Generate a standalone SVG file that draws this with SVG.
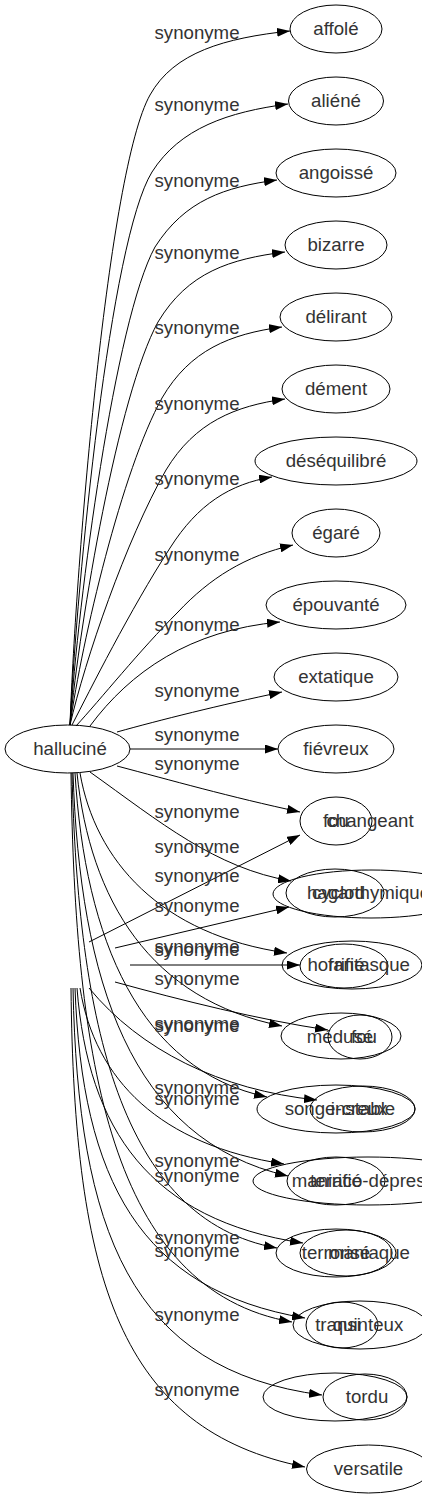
<svg xmlns="http://www.w3.org/2000/svg" width="422" height="1499" viewBox="0 0 422 1499">
<style>
.n ellipse{fill:none;stroke:#000;stroke-width:1}
text{font-family:"Liberation Sans",Arial,sans-serif;font-size:18.67px;fill:#333;text-anchor:middle}
.e path{fill:none;stroke:#000;stroke-width:1;marker-end:url(#ah)}
</style>
<defs>
<marker id="ah" markerWidth="13" markerHeight="9" refX="13" refY="4.5" orient="auto" markerUnits="userSpaceOnUse">
<path d="M0,0 L13,4.5 L0,9 Z" fill="#000"/>
</marker>
</defs>
<rect width="422" height="1499" fill="#fff"/>
<g id="edges" class="e">
<path d="M70,725 C76,560 108,170 150,95 C174,52 225,38 290,31"/>
<path d="M70,725 C77,580 110,240 152,172 C180,128 228,112 288,104"/>
<path d="M70,725 C78,600 115,320 155,247 C185,200 225,187 277,180"/>
<path d="M70,725 C80,620 118,395 158,322 C188,272 230,259 285,252"/>
<path d="M70,725 C82,640 122,470 162,398 C190,350 230,334 282,327"/>
<path d="M70,725 C85,660 126,540 166,470 C195,422 235,406 285,399"/>
<path d="M72,725 C90,690 130,610 170,548 C198,504 230,484 272,477"/>
<path d="M76,726 C100,700 140,650 178,612 C210,578 245,556 293,545"/>
<path d="M90,726 C130,672 190,630 280,622"/>
<path d="M117,732 C160,720 220,705 282,692"/>
<path d="M130,749 L278,749"/>
<path d="M117,766 C170,780 230,797 300,812"/>
<path d="M90,772 C160,822 215,868 291,881"/>
<path d="M80,773 C95,860 160,935 287,953"/>
<path d="M77,773 C90,900 150,1000 282,1026"/>
<path d="M75,773 C85,940 140,1070 267,1097"/>
<path d="M73,773 C80,980 130,1140 288,1176"/>
<path d="M72,773 C78,1020 120,1220 277,1248"/>
<path d="M71,773 C75,1060 110,1290 292,1322"/>
<path d="M89,942 L300,835"/>
<path d="M115,948 L289,907"/>
<path d="M130,965 L300,965"/>
<path d="M115,982 C180,1000 260,1020 328,1030"/>
<path d="M89,988 C140,1050 220,1090 317,1100"/>
<path d="M80,988 C95,1080 160,1145 284,1164"/>
<path d="M77,988 C88,1130 150,1220 303,1243"/>
<path d="M75,988 C82,1180 140,1290 305,1318"/>
<path d="M73,988 C78,1230 130,1370 322,1395"/>
<path d="M71,988 C74,1280 120,1430 305,1467"/>
</g>
<g id="labels">
<text x="197" y="39">synonyme</text>
<text x="197" y="111">synonyme</text>
<text x="197" y="187">synonyme</text>
<text x="197" y="259">synonyme</text>
<text x="197" y="334">synonyme</text>
<text x="197" y="410">synonyme</text>
<text x="197" y="485">synonyme</text>
<text x="197" y="561">synonyme</text>
<text x="197" y="631">synonyme</text>
<text x="197" y="697">synonyme</text>
<text x="197" y="741">synonyme</text>
<text x="197" y="770">synonyme</text>
<text x="197" y="818">synonyme</text>
<text x="197" y="853">synonyme</text>
<text x="197" y="882">synonyme</text>
<text x="197" y="912">synonyme</text>
<text x="197" y="953">synonyme</text>
<text x="197" y="956">synonyme</text>
<text x="197" y="985">synonyme</text>
<text x="197" y="1030">synonyme</text>
<text x="197" y="1032">synonyme</text>
<text x="197" y="1094">synonyme</text>
<text x="197" y="1105">synonyme</text>
<text x="197" y="1167">synonyme</text>
<text x="197" y="1182">synonyme</text>
<text x="197" y="1244">synonyme</text>
<text x="197" y="1257">synonyme</text>
<text x="197" y="1321">synonyme</text>
<text x="197" y="1396">synonyme</text>
</g>
<g id="n-hallucine" class="n"><ellipse cx="67.5" cy="749" rx="62.5" ry="24"/><text x="70" y="754.5">halluciné</text></g>
<g id="n-affole" class="n"><ellipse cx="336" cy="29" rx="46" ry="24"/><text x="336" y="34.5">affolé</text></g>
<g id="n-aliene" class="n"><ellipse cx="336" cy="101" rx="47.5" ry="24"/><text x="336" y="106.5">aliéné</text></g>
<g id="n-angoisse" class="n"><ellipse cx="336" cy="173" rx="60" ry="24"/><text x="336" y="178.5">angoissé</text></g>
<g id="n-bizarre" class="n"><ellipse cx="336" cy="245" rx="51" ry="24"/><text x="336" y="250.5">bizarre</text></g>
<g id="n-delirant" class="n"><ellipse cx="336" cy="317" rx="56" ry="24"/><text x="336" y="322.5">délirant</text></g>
<g id="n-dement" class="n"><ellipse cx="336" cy="389" rx="54" ry="24"/><text x="336" y="394.5">dément</text></g>
<g id="n-desequilibre" class="n"><ellipse cx="336" cy="461" rx="81" ry="24"/><text x="336" y="466.5">déséquilibré</text></g>
<g id="n-egare" class="n"><ellipse cx="336" cy="533" rx="44" ry="24"/><text x="336" y="538.5">égaré</text></g>
<g id="n-epouvante" class="n"><ellipse cx="336" cy="605" rx="70" ry="24"/><text x="336" y="610.5">épouvanté</text></g>
<g id="n-extatique" class="n"><ellipse cx="336" cy="677" rx="62" ry="24"/><text x="336" y="682.5">extatique</text></g>
<g id="n-fievreux" class="n"><ellipse cx="336" cy="749" rx="58" ry="24"/><text x="336" y="754.5">fiévreux</text></g>
<g id="n-fou" class="n"><ellipse cx="336" cy="821" rx="36" ry="24"/><text x="336" y="826.5">fou</text></g>
<g id="n-changeant" class="n"><text x="370" y="826.5">changeant</text></g>
<g id="n-hagard" class="n"><ellipse cx="335" cy="893" rx="49" ry="24"/><text x="336" y="898.5">hagard</text></g>
<g id="n-cyclothymique" class="n"><ellipse cx="371" cy="894" rx="98" ry="24"/><text x="371" y="898.5">cyclothymique</text></g>
<g id="n-horrifie" class="n"><ellipse cx="344" cy="966" rx="44" ry="22"/><text x="336" y="970.5">horrifié</text></g>
<g id="n-fantasque" class="n"><ellipse cx="352" cy="965" rx="70" ry="24"/><text x="369" y="970.5">fantasque</text></g>
<g id="n-meduse" class="n"><ellipse cx="341" cy="1036" rx="60" ry="23"/><text x="340" y="1042.5">médusé</text></g>
<g id="n-fou2" class="n"><ellipse cx="360" cy="1037" rx="32" ry="22"/><text x="364" y="1042.5">fou</text></g>
<g id="n-songecreux" class="n"><ellipse cx="336" cy="1109" rx="79" ry="24"/><text x="336" y="1114.5">songe-creux</text></g>
<g id="n-instable" class="n"><ellipse cx="362.5" cy="1109" rx="52.5" ry="23"/><text x="363" y="1114.5">instable</text></g>
<g id="n-terrifie" class="n"><ellipse cx="336" cy="1181" rx="49" ry="24"/><text x="336" y="1186.5">terrifié</text></g>
<g id="n-maniacodepressif" class="n"><ellipse cx="368" cy="1181" rx="115" ry="24"/><text x="368" y="1186.5">maniaco-dépressif</text></g>
<g id="n-terrorise" class="n"><ellipse cx="336" cy="1253" rx="60" ry="24"/><text x="336" y="1258.5">terrorisé</text></g>
<g id="n-maniaque" class="n"><ellipse cx="346" cy="1253" rx="46" ry="23"/><text x="369" y="1258.5">maniaque</text></g>
<g id="n-transi" class="n"><ellipse cx="342" cy="1325" rx="36" ry="23"/><text x="338" y="1330.5">transi</text></g>
<g id="n-quinteux" class="n"><ellipse cx="360" cy="1325" rx="67" ry="24"/><text x="368" y="1330.5">quinteux</text></g>
<g id="n-x" class="n"><ellipse cx="335" cy="1397" rx="72" ry="24"/></g>
<g id="n-tordu" class="n"><ellipse cx="365" cy="1397" rx="42" ry="23"/><text x="367" y="1402.5">tordu</text></g>
<g id="n-versatile" class="n"><ellipse cx="368.5" cy="1469" rx="62" ry="24"/><text x="368.5" y="1474.5">versatile</text></g>
</svg>
